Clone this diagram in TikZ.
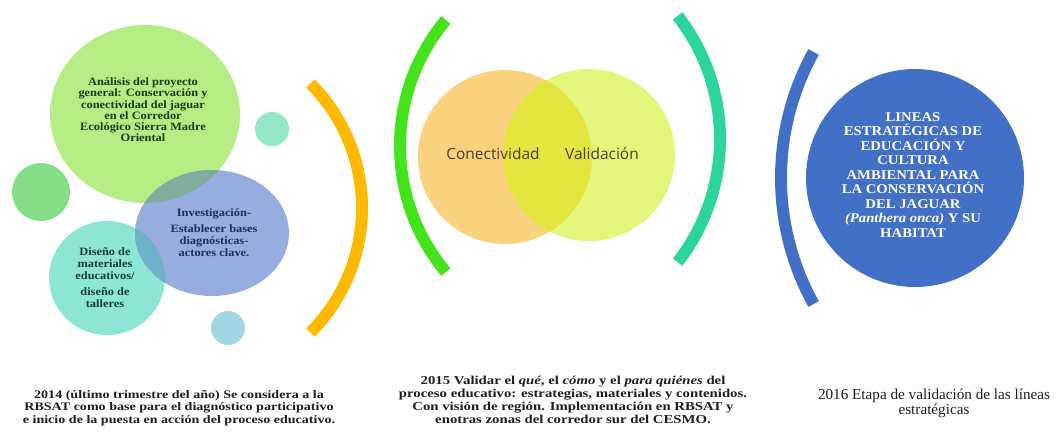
\documentclass[tikz,border=0pt]{standalone}
\usepackage{fontspec}
\setmainfont{Liberation Serif}
\newfontfamily\vennfont{Open Sans}
\newfontfamily\bubblefont[FakeStretch=1.1]{Liberation Serif}
\newfontfamily\capfont[FakeStretch=1.22]{Liberation Serif}
\usepackage{tikz}
\usetikzlibrary{shapes.geometric}
\definecolor{jgbiggreen}{RGB}{182,236,132}
\definecolor{jgleaf}{RGB}{134,222,134}
\definecolor{jgmint}{RGB}{147,232,200}
\definecolor{jgaqua}{RGB}{141,229,211}
\definecolor{jgperi}{RGB}{151,172,223}
\definecolor{jggreenperi}{RGB}{128,174,156}
\definecolor{jgaquaperi}{RGB}{109,178,202}
\definecolor{jgsky}{RGB}{160,213,226}
\definecolor{jgamber}{RGB}{255,186,0}
\definecolor{jglime}{RGB}{69,227,28}
\definecolor{jgjade}{RGB}{45,212,156}
\definecolor{jgroyal}{RGB}{66,112,198}
\definecolor{jgpeach}{RGB}{251,211,127}
\definecolor{jglemon}{RGB}{229,246,124}
\definecolor{jgvenn}{RGB}{226,230,62}
\definecolor{jgdarkgreen}{RGB}{26,58,16}
\definecolor{jgnavy}{RGB}{31,47,95}
\definecolor{jgdarkteal}{RGB}{20,60,60}
\definecolor{jgbrown}{RGB}{77,59,32}
\definecolor{jgink}{RGB}{30,30,30}
\tikzstyle{band} = [line width=8.5pt]
\tikzstyle{bubbletext} = [align=center, inner sep=0pt, font=\bubblefont\bfseries\fontsize{8}{8.5}\selectfont]
\tikzstyle{venntext} = [inner sep=0pt, text=jgbrown, font=\vennfont\fontsize{11}{13}\selectfont]
\tikzstyle{caption} = [align=center, inner sep=0pt, text=jgink, font=\capfont\bfseries\fontsize{8.2}{9}\selectfont]

\begin{document}
\begin{tikzpicture}[x=0.025cm, y=-0.025cm]
\useasboundingbox (0,0) rectangle (1057,437);

% 2014 bubbles
\fill[jgbiggreen] (145,114) ellipse [x radius=95, y radius=89];
\fill[jgleaf] (41,192) circle [radius=29];
\fill[jgmint] (272,129) circle [radius=17];
\fill[jgaqua] (107,278) ellipse [x radius=58, y radius=57];
\fill[jgperi] (212,233) ellipse [x radius=77, y radius=63];
\begin{scope}
\clip (212,233) ellipse [x radius=77, y radius=63];
\fill[jggreenperi] (145,114) ellipse [x radius=95, y radius=89];
\fill[jgaquaperi] (107,278) ellipse [x radius=58, y radius=57];
\end{scope}
\fill[jgsky] (228,328) circle [radius=17];

\node (analisis) [bubbletext, text=jgdarkgreen, font=\bubblefont\bfseries\fontsize{8}{8}\selectfont] at (143,110) {An\'alisis del proyecto\\ general: Conservaci\'on y\\ conectividad del jaguar\\ en el Corredor\\ Ecol\'ogico Sierra Madre\\ Oriental};
\node (investigacion) [bubbletext, text=jgnavy] at (214,233) {Investigaci\'on-\\[3pt] Establecer bases\\ diagn\'osticas-\\ actores clave.};
\node (diseno) [bubbletext, text=jgdarkteal] at (105,278) {Dise\~no de\\ materiales\\ educativos/\\[3pt] dise\~no de\\ talleres};

% brackets
\draw[band, jgamber] (186,208) ++(-45:176) arc [start angle=-45, end angle=45, radius=176];
\draw[band, jglime] (596,146) ++(140:196) arc [start angle=140, end angle=220, radius=196];
\draw[band, jgjade] (520,139) ++(-38:200) arc [start angle=-38, end angle=38, radius=200];
\draw[band, jgroyal] (1041,178) ++(151:260) arc [start angle=151, end angle=209, radius=260];

% 2015 venn
\fill[jgpeach] (505,157) circle [radius=87];
\fill[jglemon] (589,155) circle [radius=86];
\begin{scope}
\clip (505,157) circle [radius=87];
\fill[jgvenn] (589,155) circle [radius=86];
\end{scope}
\node (conectividad) [venntext] at (493,154) {Conectividad};
\node (validacion) [venntext] at (602,154) {Validaci\'on};

% 2016 result
\fill[jgroyal] (915,178) circle [radius=109];
\node (lineas) [text=white, align=center, inner sep=0pt, font=\bubblefont\bfseries\fontsize{9.5}{10.3}\selectfont] at (913,175) {LINEAS\\ ESTRAT\'EGICAS DE\\ EDUCACI\'ON Y\\ CULTURA\\ AMBIENTAL PARA\\ LA CONSERVACI\'ON\\ DEL JAGUAR\\ \textit{(Panthera onca)} Y SU\\ HABITAT};

% captions
\node (cap2014) [caption] at (179,408) {2014 (\'ultimo trimestre del a\~no) Se considera a la\\ RBSAT como base para el diagn\'ostico participativo\\ e inicio de la puesta en acci\'on del proceso educativo.};
\node (cap2015) [caption, font=\capfont\bfseries\fontsize{8.6}{9.2}\selectfont] at (573,400) {2015 Validar el \textit{qu\'e}, el \textit{c\'omo} y el \textit{para qui\'enes} del\\ proceso educativo: estrategias, materiales y contenidos.\\ Con visi\'on de regi\'on. Implementaci\'on en RBSAT y\\ enotras zonas del corredor sur del CESMO.};
\node (cap2016) [caption, font=\fontsize{10.8}{10.7}\selectfont] at (934,403) {2016 Etapa de validaci\'on de las l\'ineas\\ estrat\'egicas};
\end{tikzpicture}
\end{document}
